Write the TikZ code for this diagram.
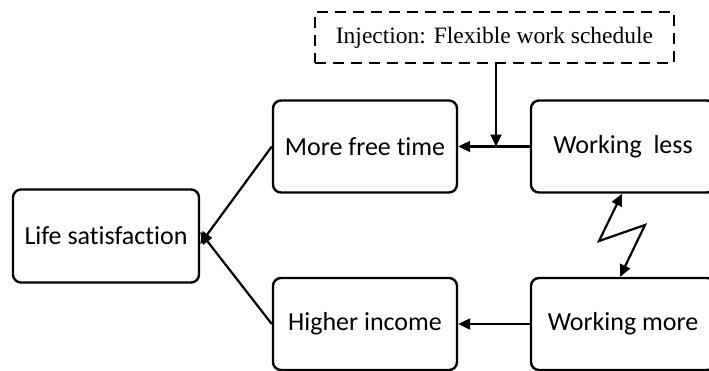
\documentclass[tikz,border=0pt]{standalone}
\usepackage{fontspec}
\setmainfont{Carlito}[Ligatures=NoCommon]
\newfontfamily\serifinj{Liberation Serif}
\usetikzlibrary{arrows.meta}
\begin{document}
\begin{tikzpicture}[x=1pt,y=-1pt,
  boxstyle/.style={draw,line width=2.4pt,rounded corners=8pt,minimum width=184pt,minimum height=92pt,inner sep=0pt,font=\fontsize{26}{30}\selectfont},
  injbox/.style={draw,line width=2.4pt,dash pattern=on 11pt off 7pt,minimum width=359pt,minimum height=51pt,inner sep=0pt,font=\serifinj\fontsize{23.5}{27}\selectfont},
  arr/.style={line width=2.2pt,-{Triangle[length=12pt,width=11pt]}},
  darr/.style={line width=2.2pt,{Triangle[length=12pt,width=11pt]}-{Triangle[length=12pt,width=11pt]}}]
\clip (0,0) rectangle (709,370);
\fill[white] (0,0) rectangle (709,370);
\node[boxstyle,minimum width=186pt,minimum height=93pt] (life) at (106,236) {Life satisfaction};
\node[boxstyle] (free) at (365,146.5) {More free time};
\node[boxstyle] (less) at (623,146.5) {Working\ \ less};
\node[boxstyle] (income) at (365,324) {Higher income};
\node[boxstyle] (more) at (623,324) {Working more};
\node[injbox] (inj) at (494.5,37.5) {Injection: Flexible work schedule};
\coordinate (join) at (496,146.5);
\draw[arr] (less.west) -- (free.east);
\draw[arr] (inj.south -| join) -- (join);
\draw[arr] (more.west) -- (income.east);
\draw[arr] (free.west) -- ([yshift=-8pt]life.east);
\draw[arr] (income.west) -- ([yshift=4pt]life.east);
\coordinate (z1) at (599,241);
\coordinate (z2) at (645,225);
\draw[darr] ([xshift=-1pt]less.south) -- (z1) -- (z2) -- ([xshift=-3pt]more.north);
\end{tikzpicture}
\end{document}
